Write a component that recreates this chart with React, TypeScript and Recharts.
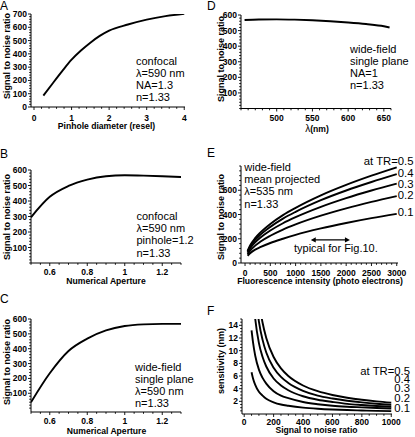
import React from "react";
import { LineChart, Line, XAxis, YAxis, ReferenceLine } from "recharts";

const FONT = '"Liberation Sans", Arial, Helvetica, sans-serif';

// A: confocal, signal to noise vs pinhole diameter
const pinholeDiameter = [0.25, 0.5, 0.75, 1, 1.25, 1.5, 1.75, 2, 2.5, 3, 3.5, 4];
const snrPinhole = [86, 179, 270, 356, 425, 484, 535, 575, 621, 658, 684, 701];

// B / C: signal to noise vs numerical aperture
const numericalAperture = [0.5, 0.6, 0.7, 0.8, 0.9, 1.0, 1.1, 1.2, 1.3];
const snrConfocalNA = [295, 427, 497, 538, 560, 566, 564, 560, 555];
const snrWidefieldNA = [40, 235, 385, 468, 523, 553, 564, 567, 567];

// D: signal to noise vs wavelength
const wavelengthNm = [455, 475, 500, 525, 550, 575, 600, 625, 650, 658];
const snrWavelength = [568, 571, 572, 570, 566, 560, 552, 542, 528, 520];

// E: signal to noise vs fluorescence intensity, one curve per TR
const photoElectrons = [50, 100, 200, 300, 500, 750, 1000, 1500, 2000, 2500, 3000];
const snrTR05 = [100, 145, 205, 250, 322, 395, 455, 558, 644, 720, 789];
const snrTR04 = [93, 134, 190, 232, 298, 366, 422, 518, 598, 668, 733];
const snrTR03 = [85, 120, 170, 208, 268, 328, 378, 463, 535, 598, 655];
const snrTR02 = [72, 101, 143, 175, 225, 276, 319, 391, 451, 504, 552];
const snrTR01 = [60, 80, 110, 130, 165, 200, 232, 285, 330, 370, 405];

// F: sensitivity vs signal to noise ratio, one curve per TR
const snrValues = [50, 60, 75, 100, 125, 150, 200, 250, 300, 400, 500, 600, 700, 800, 900, 1000];
const sensTR05 = [null, null, 24, 18, 14.4, 12, 9, 7.2, 6, 4.5, 3.6, 3.0, 2.57, 2.25, 2.0, 1.8];
const sensTR04 = [null, 24.3, 19.5, 14.6, 11.7, 9.7, 7.3, 5.85, 4.9, 3.65, 2.9, 2.45, 2.1, 1.83, 1.62, 1.47];
const sensTR03 = [null, 18.7, 15, 11.2, 9.0, 7.5, 5.6, 4.5, 3.75, 2.8, 2.25, 1.9, 1.6, 1.42, 1.27, 1.15];
const sensTR02 = [13.2, 11.3, 9.2, 7.0, 5.7, 4.8, 3.6, 2.9, 2.5, 1.9, 1.55, 1.3, 1.15, 1.05, 0.95, 0.88];
const sensTR01 = [6.6, 5.6, 4.6, 3.5, 2.9, 2.4, 1.85, 1.5, 1.3, 1.0, 0.82, 0.7, 0.62, 0.56, 0.5, 0.46];

const trLabels = ["at TR=0.5", "0.4", "0.3", "0.2", "0.1"];

// major tick labels
const ticksA_x = [0, 1, 2, 3, 4];
const ticksA_y = [0, 100, 200, 300, 400, 500, 600, 700];
const ticksNA_x = [0.6, 0.8, 1, 1.2];
const ticksSnr600_y = [100, 200, 300, 400, 500, 600];
const ticksD_x = [500, 550, 600, 650];
const ticksE_x = [0, 500, 1000, 1500, 2000, 2500, 3000];
const ticksE_y = [0, 200, 400, 600];
const ticksF_x = [0, 200, 400, 600, 800, 1000];
const ticksF_y = [2, 4, 6, 8, 10, 12, 14];

const rowsA = pinholeDiameter.map((x, i) => ({ x, snr: snrPinhole[i] }));
const rowsB = numericalAperture.map((x, i) => ({ x, snr: snrConfocalNA[i] }));
const rowsC = numericalAperture.map((x, i) => ({ x, snr: snrWidefieldNA[i] }));
const rowsD = wavelengthNm.map((x, i) => ({ x, snr: snrWavelength[i] }));
const rowsE = photoElectrons.map((x, i) => ({
  x, t5: snrTR05[i], t4: snrTR04[i], t3: snrTR03[i], t2: snrTR02[i], t1: snrTR01[i],
}));
const rowsF = snrValues.map((x, i) => ({
  x, t5: sensTR05[i], t4: sensTR04[i], t3: sensTR03[i], t2: sensTR02[i], t1: sensTR01[i],
}));

// minor tick positions (no labels)
const steps = (from: number, to: number, step: number) => {
  const out: number[] = [];
  for (let v = from; v <= to + step / 1000; v += step) out.push(Math.round(v * 1000) / 1000);
  return out;
};

const tickFont: React.CSSProperties = { fontFamily: FONT, fontSize: 8.5, fontWeight: 700 };
const fmt = (v: number) => String(Math.round(v * 100) / 100);
const isIn = (list: number[], v: number) => list.some((m) => Math.abs(m - v) < 1e-6);

type Rect = { l: number; r: number; t: number; b: number };

type PanelProps = {
  rect: Rect;
  rows: any[];
  series: string[];
  xDomain: [number, number];
  yDomain: [number, number];
  xMajor: number[];
  xMinor: number[];
  yMajor: number[];
  yMinor: number[];
  xLabelDy?: number;
  children?: React.ReactNode;
};

function Panel({ rect, rows, series, xDomain, yDomain, xMajor, xMinor, yMajor, yMinor, xLabelDy = 12, children }: PanelProps) {
  const cl = rect.l - 32;
  const ct = rect.t - 4;
  const width = rect.r - cl + 16;
  const height = rect.b - ct + 18;
  const plotL = 32;
  const plotB = rect.b - ct;
  const xTicks = Array.from(new Set([...xMinor, ...xMajor])).sort((a, b) => a - b);
  const yTicks = Array.from(new Set([...yMinor, ...yMajor])).sort((a, b) => a - b);

  const xTick = (p: any) => {
    const v = p.payload.value;
    const major = isIn(xMajor, v);
    return (
      <g>
        <line x1={p.x} x2={p.x} y1={plotB} y2={plotB + (major ? 3 : 1.8)} stroke="#000" strokeWidth={0.9} />
        {major && (
          <text x={p.x} y={plotB + xLabelDy} textAnchor="middle" fill="#000" style={tickFont}>
            {fmt(v)}
          </text>
        )}
      </g>
    );
  };
  const yTick = (p: any) => {
    const v = p.payload.value;
    const major = isIn(yMajor, v);
    return (
      <g>
        <line x1={plotL} x2={plotL - (major ? 3 : 1.8)} y1={p.y} y2={p.y} stroke="#000" strokeWidth={0.9} />
        {major && (
          <text x={plotL - 4} y={p.y} dy="0.36em" textAnchor="end" fill="#000" style={tickFont}>
            {fmt(v)}
          </text>
        )}
      </g>
    );
  };

  return (
    <div style={{ position: "absolute", left: cl, top: ct }}>
      <LineChart width={width} height={height} data={rows} margin={{ top: 4, right: 16, bottom: 2, left: 0 }}>
        <XAxis
          type="number"
          dataKey="x"
          domain={xDomain}
          allowDataOverflow
          ticks={xTicks}
          interval={0}
          height={16}
          axisLine={{ stroke: "#000", strokeWidth: 1 }}
          tickLine={false}
          tick={xTick}
        />
        <YAxis
          type="number"
          domain={yDomain}
          allowDataOverflow
          ticks={yTicks}
          interval={0}
          width={32}
          axisLine={{ stroke: "#000", strokeWidth: 1 }}
          tickLine={false}
          tick={yTick}
        />
        {series.map((k) => (
          <Line key={k} dataKey={k} type="monotone" stroke="#000" strokeWidth={1.9} dot={false} isAnimationActive={false} />
        ))}
        {children}
      </LineChart>
    </div>
  );
}

const ArrowShape = (p: any) => {
  const { x1, y1, x2, y2 } = p;
  return (
    <g>
      <line x1={x1 + 2} y1={y1} x2={x2 - 2} y2={y2} stroke="#000" strokeWidth={1.2} />
      <path d={`M${x1},${y1} l5,-2.6 l0,5.2 z`} fill="#000" />
      <path d={`M${x2},${y2} l-5,-2.6 l0,5.2 z`} fill="#000" />
    </g>
  );
};

const noteStyle: React.CSSProperties = { fontFamily: FONT, fontSize: 11, fill: "#000" };
const titleStyle: React.CSSProperties = { fontFamily: FONT, fontSize: 8.6, fontWeight: 700, fill: "#000" };
const yTitleStyle: React.CSSProperties = { fontFamily: FONT, fontSize: 9, fontWeight: 700, fill: "#000" };
const letterStyle: React.CSSProperties = { fontFamily: FONT, fontSize: 12, fill: "#000" };
const trStyle: React.CSSProperties = { fontFamily: FONT, fontSize: 11.3, fill: "#000" };

function Note({ x, y, lines }: { x: number; y: number; lines: string[] }) {
  return (
    <>
      {lines.map((s, i) => (
        <text key={i} x={x} y={y + i * 12.2} style={noteStyle}>
          {s}
        </text>
      ))}
    </>
  );
}

function YTitle({ x, y, text }: { x: number; y: number; text: string }) {
  return (
    <text transform={`translate(${x},${y}) rotate(-90)`} textAnchor="middle" style={yTitleStyle}>
      {text}
    </text>
  );
}

export default function App() {
  const eLabelY = [165, 176.8, 187.5, 198.5, 216];
  const fLabelY = [374.5, 382.8, 392.3, 401.5, 412.3];
  return (
    <div style={{ position: "absolute", left: 0, top: 0, width: 415, height: 437, background: "#fff", overflow: "hidden" }}>
      <Panel
        rect={{ l: 31, r: 185, t: 14, b: 107 }}
        rows={rowsA}
        series={["snr"]}
        xDomain={[-0.08, 4.02]}
        yDomain={[0, 700]}
        xMajor={ticksA_x}
        xMinor={steps(0, 4, 0.2)}
        yMajor={ticksA_y}
        yMinor={steps(0, 700, 20)}
        xLabelDy={13.5}
      />
      <Panel
        rect={{ l: 31, r: 181, t: 170, b: 263 }}
        rows={rowsB}
        series={["snr"]}
        xDomain={[0.5, 1.3]}
        yDomain={[0, 600]}
        xMajor={ticksNA_x}
        xMinor={steps(0.5, 1.3, 0.05)}
        yMajor={ticksSnr600_y}
        yMinor={steps(0, 600, 20)}
        xLabelDy={11.5}
      />
      <Panel
        rect={{ l: 31, r: 181, t: 319, b: 412 }}
        rows={rowsC}
        series={["snr"]}
        xDomain={[0.5, 1.3]}
        yDomain={[-26, 600]}
        xMajor={ticksNA_x}
        xMinor={steps(0.5, 1.3, 0.05)}
        yMajor={ticksSnr600_y}
        yMinor={steps(0, 600, 20)}
        xLabelDy={11.5}
      />
      <Panel
        rect={{ l: 241, r: 391, t: 14.5, b: 108 }}
        rows={rowsD}
        series={["snr"]}
        xDomain={[450, 660]}
        yDomain={[0, 600]}
        xMajor={ticksD_x}
        xMinor={steps(450, 660, 10)}
        yMajor={ticksSnr600_y}
        yMinor={steps(0, 600, 20)}
        xLabelDy={12.7}
      />
      <Panel
        rect={{ l: 241, r: 398, t: 165.5, b: 262.5 }}
        rows={rowsE}
        series={["t5", "t4", "t3", "t2", "t1"]}
        xDomain={[-80, 3025]}
        yDomain={[0, 800]}
        xMajor={ticksE_x}
        xMinor={steps(0, 3000, 100)}
        yMajor={ticksE_y}
        yMinor={steps(0, 800, 40)}
        xLabelDy={12.7}
      >
        <ReferenceLine
          segment={[
            { x: 1300, y: 190 },
            { x: 2075, y: 190 },
          ]}
          stroke="#000"
          shape={ArrowShape}
        />
      </Panel>
      <Panel
        rect={{ l: 242, r: 392, t: 318.5, b: 413.5 }}
        rows={rowsF}
        series={["t5", "t4", "t3", "t2", "t1"]}
        xDomain={[-15, 1005]}
        yDomain={[0, 15]}
        xMajor={ticksF_x}
        xMinor={steps(0, 1000, 50)}
        yMajor={ticksF_y}
        yMinor={steps(0.5, 15, 0.5)}
        xLabelDy={10.5}
      />

      <svg width={415} height={437} style={{ position: "absolute", left: 0, top: 0, pointerEvents: "none" }}>
        {/* panel letters */}
        <text x={0} y={10} style={letterStyle}>A</text>
        <text x={0} y={158} style={letterStyle}>B</text>
        <text x={0} y={303} style={letterStyle}>C</text>
        <text x={207} y={10} style={letterStyle}>D</text>
        <text x={207} y={157} style={letterStyle}>E</text>
        <text x={207} y={315} style={letterStyle}>F</text>

        {/* axis titles */}
        <YTitle x={9.5} y={56} text="Signal to noise ratio" />
        <YTitle x={9.5} y={217} text="Signal to noise ratio" />
        <YTitle x={9.5} y={362} text="Signal to noise ratio" />
        <YTitle x={224} y={59} text="Signal to noise ratio" />
        <YTitle x={224} y={217} text="Signal to noise ratio" />
        <YTitle x={224} y={361} text="sensitivity (nm)" />

        <text x={106.5} y={129} textAnchor="middle" style={titleStyle}>Pinhole diameter (resel)</text>
        <text x={106} y={284} textAnchor="middle" style={titleStyle}>Numerical Aperture</text>
        <text x={106.5} y={433.5} textAnchor="middle" style={titleStyle}>Numerical Aperture</text>
        <text x={317} y={131.5} textAnchor="middle" style={titleStyle}>
          <tspan style={{ fontWeight: 400, fontSize: 10 }}>λ</tspan>
          <tspan>(nm)</tspan>
        </text>
        <text x={320} y={283.5} textAnchor="middle" style={titleStyle}>Fluorescence intensity (photo electrons)</text>
        <text x={316.5} y={433} textAnchor="middle" style={titleStyle}>Signal to noise ratio</text>

        {/* annotations */}
        <Note x={136} y={64.5} lines={["confocal", "λ=590 nm", "NA=1.3", "n=1.33"]} />
        <Note x={136.5} y={220} lines={["confocal", "λ=590 nm", "pinhole=1.2", "n=1.33"]} />
        <Note x={135} y={370.7} lines={["wide-field", "single plane", "λ=590 nm", "n=1.33"]} />
        <Note x={350} y={52.7} lines={["wide-field", "single plane", "NA=1", "n=1.33"]} />
        <Note x={244.3} y={171} lines={["wide-field", "mean projected", "λ=535 nm", "n=1.33"]} />
        <text x={294} y={252} style={noteStyle}>typical for Fig.10.</text>

        {trLabels.map((s, i) => (
          <text key={"e" + i} x={413.5} y={eLabelY[i]} textAnchor="end" style={trStyle}>
            {s}
          </text>
        ))}
        {trLabels.map((s, i) => (
          <text key={"f" + i} x={410} y={fLabelY[i]} textAnchor="end" style={trStyle}>
            {s}
          </text>
        ))}
      </svg>
    </div>
  );
}
